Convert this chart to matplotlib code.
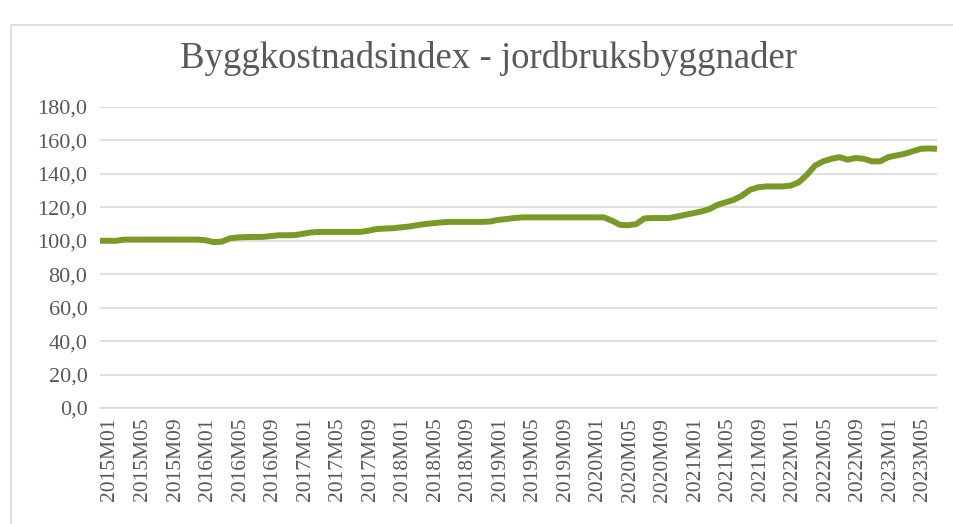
import matplotlib
matplotlib.use("Agg")
import matplotlib.pyplot as plt
from matplotlib.patches import Rectangle
from matplotlib.transforms import ScaledTranslation

# ---- data ----
start_year = 2015
n_months = 104  # 2015M01 .. 2023M08
categories = [f"{start_year + i // 12}M{i % 12 + 1:02d}" for i in range(n_months)]

values = [
    100.0, 100.0, 100.0, 100.7, 100.7, 100.7, 100.7, 100.7, 100.7, 100.7,
    100.7, 100.7, 100.7, 100.3, 99.2, 99.5, 101.5, 102.0, 102.2, 102.3,
    102.3, 102.8, 103.3, 103.3, 103.4, 104.2, 105.0, 105.3, 105.3, 105.3,
    105.3, 105.3, 105.3, 106.0, 107.0, 107.3, 107.5, 108.0, 108.5, 109.3,
    110.0, 110.5, 111.0, 111.3, 111.3, 111.3, 111.3, 111.3, 111.5, 112.5,
    113.0, 113.6, 114.0, 114.0, 114.0, 114.0, 114.0, 114.0, 114.0, 114.0,
    114.0, 114.0, 114.0, 112.0, 109.5, 109.3, 110.0, 113.4, 113.6, 113.6,
    113.6, 114.5, 115.5, 116.5, 117.5, 119.0, 121.5, 123.0, 124.5, 127.0,
    130.5, 132.0, 132.5, 132.5, 132.5, 133.0, 135.0, 139.5, 145.0, 147.5,
    149.0, 150.0, 148.5, 149.5, 149.0, 147.5, 147.5, 150.0, 151.0, 152.0,
    153.5, 155.0, 155.2, 155.0,
]

title = "Byggkostnadsindex - jordbruksbyggnader"
y_ticks = [0, 20, 40, 60, 80, 100, 120, 140, 160, 180]
label_step = 4

# ---- plot ----
plt.rcParams['font.family'] = ['Liberation Serif', 'DejaVu Serif']

W, H = 954, 524
fig = plt.figure(figsize=(W / 100, H / 100), dpi=100)
fig.patch.set_facecolor('white')

# chart area border
fig.patches.append(Rectangle((11 / W, -0.01), (W + 5 - 11) / W, 1 - 25 / H + 0.01,
                             transform=fig.transFigure, fill=False,
                             edgecolor='#d9d9d9', linewidth=1.2))

ax = fig.add_axes([100 / W, 1 - 408 / H, (937 - 100) / W, (408 - 107) / H])
x = list(range(n_months))
ax.plot(x, values, color='#7a9a28', linewidth=4.3, solid_capstyle='butt',
        solid_joinstyle='round')

ax.set_xlim(0, n_months - 1)
ax.set_ylim(0, 180)
ax.set_yticks(y_ticks)
ax.set_yticklabels([f"{v:.1f}".replace('.', ',') for v in y_ticks],
                   fontsize=16, color='#595959')
tick_pos = list(range(0, n_months, label_step))
ax.set_xticks(tick_pos)
ax.set_xticklabels([categories[i] for i in tick_pos], rotation=90,
                   fontsize=15.5, color='#595959')
ax.tick_params(axis='both', length=0)
ax.tick_params(axis='y', pad=9)
ax.tick_params(axis='x', pad=7)
offset = ScaledTranslation(10 / 100, 0, fig.dpi_scale_trans)
for lab in ax.get_xticklabels():
    lab.set_transform(lab.get_transform() + offset)

ax.grid(axis='y', color='#d9d9d9', linewidth=1.2)
ax.set_axisbelow(True)
for s in ['top', 'right', 'left']:
    ax.spines[s].set_visible(False)
ax.spines['bottom'].set_color('#d9d9d9')
ax.spines['bottom'].set_linewidth(1.2)

fig.text(488 / W, 1 - 58 / H, title, ha='center', va='center',
         fontsize=26.5, color='#595959')

fig.savefig('out.png', dpi=100)
